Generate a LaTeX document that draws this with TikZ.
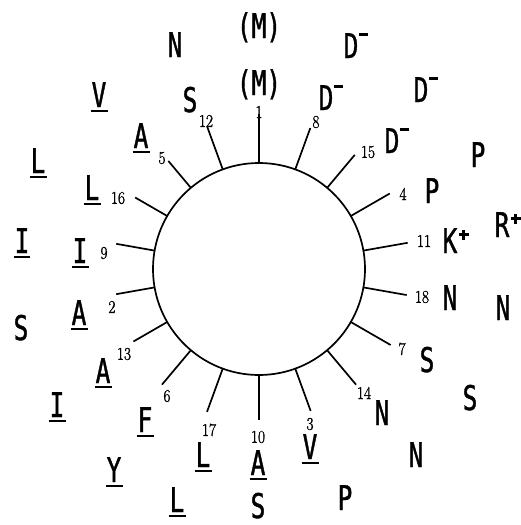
\documentclass[tikz,border=0pt]{standalone}
\usepackage{fontspec}
\usetikzlibrary{calc}
\newfontfamily\letf[FakeStretch=0.72,FakeBold=1.1]{DejaVu Sans Mono}
\newfontfamily\numf[FakeStretch=0.85,FakeBold=1.4]{Latin Modern Roman}
\newcommand\ul[1]{\makebox[0pt]{#1}\makebox[0pt]{\rule[-4.5pt]{17pt}{2pt}}}
\newcommand\pl[1]{\makebox[0pt]{#1}}
\newcommand\supm{\rlap{\kern8pt\rule[22pt]{9pt}{2.6pt}}}
\newcommand\supp{\rlap{\kern8.5pt\rule[17.5pt]{10pt}{2.6pt}\kern-6.3pt\rule[13.5pt]{2.6pt}{10pt}}}
\tikzset{
  res/.style={inner sep=0pt, anchor=base, font=\letf\fontsize{34}{34}\selectfont},
  num/.style={inner sep=0pt, anchor=center, font=\numf\fontsize{18}{18}\selectfont},
  spoke/.style={line width=1.7pt},
}
\begin{document}
\begin{tikzpicture}[x=1pt,y=-1pt]
\useasboundingbox (0,0) rectangle (521,525);
\coordinate (c) at (259,269);
\draw[spoke] (c) circle[radius=106];
\foreach \k/\a/\r in {1/90/155,8/70/150,15/50/149,4/30/151,11/10/151,18/-10/150,7/-30/152,14/-50/151,3/-70/151,10/-90/151,17/-110/152,6/-130/151,13/-150/145,2/-170/145,9/170/145,16/150/143,5/130/141,12/110/152}{
  \coordinate (i\k) at ($(c)+(-\a:106)$);
  \coordinate (o\k) at ($(c)+(-\a:\r)$);
  \draw[spoke] (i\k) -- (o\k);
}
% numbers
\node[num] (n1) at (259,112) {1};
\node[num] (n8) at (316,122) {8};
\node[num] (n15) at (368,152) {15};
\node[num] (n4) at (403,194) {4};
\node[num] (n11) at (424,241) {11};
\node[num] (n18) at (422,297) {18};
\node[num] (n7) at (402,349) {7};
\node[num] (n14) at (364,393) {14};
\node[num] (n3) at (310,424) {3};
\node[num] (n10) at (258,437) {10};
\node[num] (n17) at (209,430) {17};
\node[num] (n6) at (167,396) {6};
\node[num] (n13) at (124,354) {13};
\node[num] (n2) at (112,307) {2};
\node[num] (n9) at (104,253) {9};
\node[num] (n16) at (118,198) {16};
\node[num] (n5) at (162,158) {5};
\node[num] (n12) at (206,121) {12};
% inner ring
\node[res] (a1) at (259,95) {\pl{(M)}};
\node[res] (a8) at (326,110) {\pl{D}\supm};
\node[res] (a15) at (392,153) {\pl{D}\supm};
\node[res] (a4) at (432,203) {\pl{P}};
\node[res] (a11) at (450,253) {\pl{K}\supp};
\node[res] (a18) at (450,310) {\pl{N}};
\node[res] (a7) at (427,372) {\pl{S}};
\node[res] (a14) at (382,425) {\pl{N}};
\node[res] (a3) at (310,459) {\ul{V}};
\node[res] (a10) at (258,475) {\ul{A}};
\node[res] (a17) at (203,467) {\ul{L}};
\node[res] (a6) at (145,432) {\ul{F}};
\node[res] (a13) at (103,383) {\ul{A}};
\node[res] (a2) at (79,325) {\ul{A}};
\node[res] (a9) at (80,263) {\ul{I}};
\node[res] (a16) at (92,200) {\ul{L}};
\node[res] (a5) at (141,148) {\ul{A}};
\node[res] (a12) at (190,112) {\pl{S}};
% outer ring
\node[res] (b1) at (259,38) {\pl{(M)}};
\node[res] (b8) at (351,58) {\pl{D}\supm};
\node[res] (b15) at (421,102) {\pl{D}\supm};
\node[res] (b4) at (478,167) {\pl{P}};
\node[res] (b11) at (502,237) {\pl{R}\supp};
\node[res] (b18) at (503,320) {\pl{N}};
\node[res] (b7) at (470,410) {\pl{S}};
\node[res] (b14) at (416,467) {\pl{N}};
\node[res] (b3) at (345,510) {\pl{P}};
\node[res] (b10) at (258,518) {\pl{S}};
\node[res] (b17) at (177,512) {\ul{L}};
\node[res] (b6) at (114,482) {\ul{Y}};
\node[res] (b13) at (57,417) {\ul{I}};
\node[res] (b2) at (21,340) {\pl{S}};
\node[res] (b9) at (22,253) {\ul{I}};
\node[res] (b16) at (38,173) {\ul{L}};
\node[res] (b5) at (99,107) {\ul{V}};
\node[res] (b12) at (175,57) {\pl{N}};
\end{tikzpicture}
\end{document}
